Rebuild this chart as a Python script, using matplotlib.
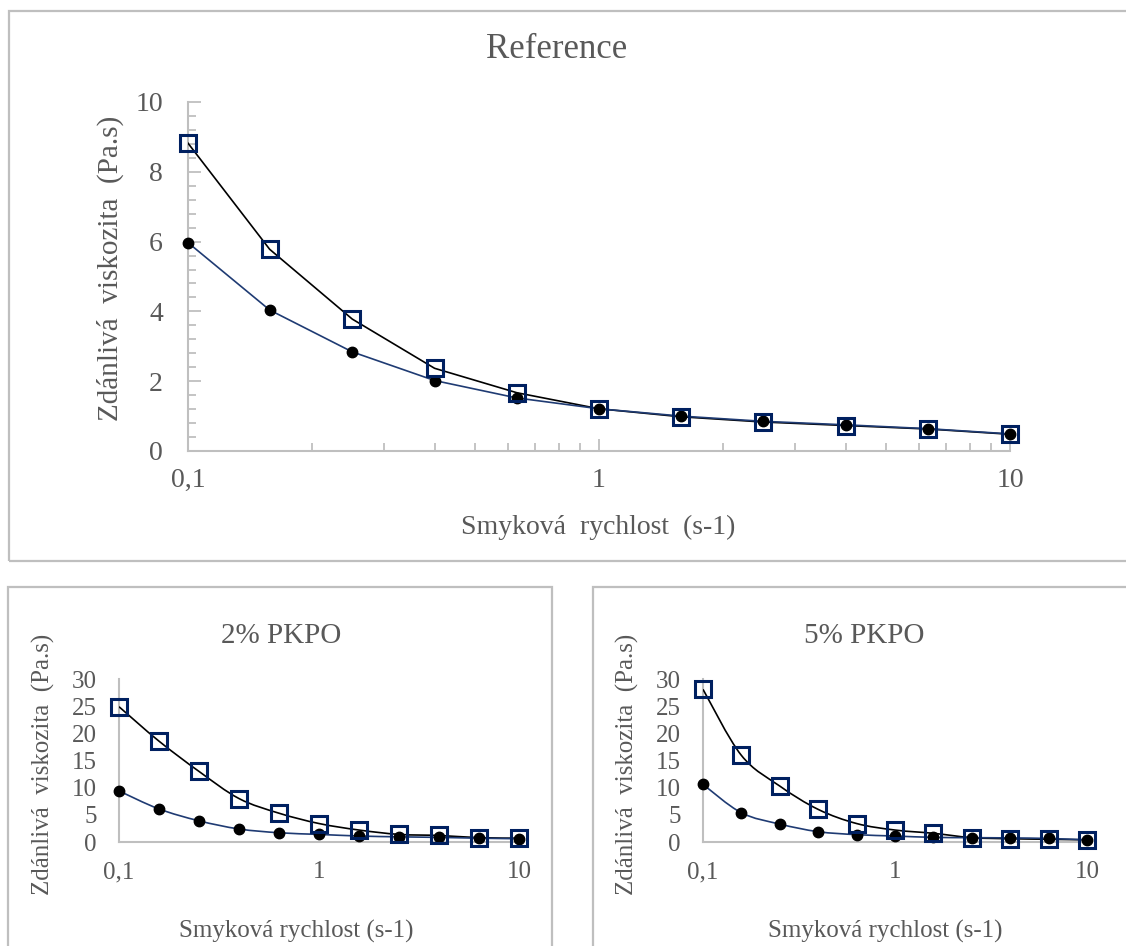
import numpy as np
import matplotlib
matplotlib.use("Agg")
import matplotlib.pyplot as plt
from matplotlib.path import Path
from matplotlib.patches import PathPatch, Rectangle
from matplotlib.ticker import FixedLocator, NullFormatter

plt.rcParams['font.family'] = ['Liberation Serif', 'DejaVu Serif']

# shear rate (s-1)
shear_rate = [0.1, 0.158, 0.251, 0.398, 0.631, 1.0, 1.585, 2.512, 3.981, 6.31, 10.0]

# Reference
ref_squares = [8.82, 5.78, 3.78, 2.37, 1.67, 1.21, 0.98, 0.83, 0.73, 0.63, 0.48]
ref_circles = [5.97, 4.04, 2.84, 2.02, 1.52, 1.21, 1.00, 0.85, 0.75, 0.64, 0.49]

# 2% PKPO
p2_squares = [24.9, 18.6, 13.0, 8.0, 5.3, 3.4, 2.2, 1.4, 1.2, 0.8, 0.7]
p2_circles = [9.4, 6.1, 3.9, 2.4, 1.7, 1.4, 1.1, 0.95, 0.85, 0.7, 0.6]

# 5% PKPO
p5_squares = [28.1, 16.0, 10.3, 6.0, 3.4, 2.2, 1.6, 0.8, 0.6, 0.5, 0.4]
p5_circles = [10.6, 5.4, 3.3, 1.9, 1.35, 1.1, 0.85, 0.8, 0.75, 0.65, 0.4]

x_ticks = [0.1, 1, 10]
x_labels = ['0,1', '1', '10']

TEXT = '#595959'
AXIS = '#BFBFBF'
NAVY = '#002060'
NAVY_LINE = '#1F3B73'

W, H = 1126, 946
fig = plt.figure(figsize=(W / 100, H / 100), dpi=100)


def fbox(x0, y0, x1, y1):
    # pixel box (top-left origin) -> figure fraction rect
    return [x0 / W, 1 - y1 / H, (x1 - x0) / W, (y1 - y0) / H]


def smooth_path(x, y):
    # Excel-like smoothed line (Catmull-Rom as cubic Bezier in log-x space)
    pts = np.column_stack([np.log10(x), y])
    n = len(pts)
    verts = [pts[0]]
    codes = [Path.MOVETO]
    for i in range(n - 1):
        p0 = pts[i - 1] if i > 0 else pts[i]
        p1 = pts[i]
        p2 = pts[i + 1]
        p3 = pts[i + 2] if i + 2 < n else pts[i + 1]
        verts += [p1 + (p2 - p0) / 6, p2 - (p3 - p1) / 6, p2]
        codes += [Path.CURVE4] * 3
    verts = np.array(verts)
    verts[:, 0] = 10 ** verts[:, 0]
    return Path(verts, codes)


def draw_panel(ax, squares, circles, ymax, ystep, tick_fs, minor, smooth):
    ax.set_xscale('log')
    ax.set_xlim(0.1, 10)
    ax.set_ylim(0, ymax)
    if smooth:
        ax.add_patch(PathPatch(smooth_path(shear_rate, squares), facecolor='none',
                               edgecolor='black', lw=1.2, zorder=3))
        ax.add_patch(PathPatch(smooth_path(shear_rate, circles), facecolor='none',
                               edgecolor=NAVY_LINE, lw=1.2, zorder=3))
    else:
        ax.plot(shear_rate, squares, color='black', lw=1.2, zorder=3)
        ax.plot(shear_rate, circles, color=NAVY_LINE, lw=1.2, zorder=3)
    ax.plot(shear_rate, circles, ls='none', marker='o', ms=7.5, color='black',
            zorder=4, clip_on=False)
    ax.plot(shear_rate, squares, ls='none', marker='s', ms=11.5, mfc='none',
            mec=NAVY, mew=2.2, zorder=5, clip_on=False)
    for s in ['top', 'right']:
        ax.spines[s].set_visible(False)
    for s in ['left', 'bottom']:
        ax.spines[s].set_color(AXIS)
        ax.spines[s].set_linewidth(1.5)
    ax.xaxis.set_major_locator(FixedLocator(x_ticks))
    ax.set_xticklabels(x_labels)
    ax.set_yticks(np.arange(0, ymax + 0.01, ystep))
    ax.set_yticklabels([f'{v:g}' for v in np.arange(0, ymax + 0.01, ystep)])
    ax.patch.set_alpha(0)
    if minor:
        ax.xaxis.set_minor_locator(FixedLocator([k * 10 ** e for e in (-1, 0) for k in range(2, 10)]))
        ax.xaxis.set_minor_formatter(NullFormatter())
        ax.yaxis.set_minor_locator(FixedLocator(np.arange(0, ymax + 0.01, 0.4)))
        ax.tick_params(which='both', direction='in', color=AXIS, width=1.3)
        ax.tick_params(which='major', length=9)
        ax.tick_params(which='minor', length=6)
        ax.tick_params(axis='y', which='major', pad=18)
        ax.tick_params(axis='x', which='major', pad=12)
    else:
        ax.xaxis.set_minor_locator(FixedLocator([]))
        ax.tick_params(which='both', length=0)
        ax.tick_params(axis='y', pad=16)
        ax.tick_params(axis='x', pad=14)
    ax.tick_params(labelsize=tick_fs, labelcolor=TEXT)


# panel frames
for (x0, y0, x1, y1) in [(9, 10.5, 1140, 561), (8, 587, 552, 960), (593, 587, 1140, 960)]:
    fig.patches.append(Rectangle((x0 / W, 1 - y1 / H), (x1 - x0) / W, (y1 - y0) / H,
                                 transform=fig.transFigure, facecolor='none',
                                 edgecolor=AXIS, lw=1.6))

ax1 = fig.add_axes(fbox(188, 102, 1010, 451))
draw_panel(ax1, ref_squares, ref_circles, 10, 2, 20, True, False)

ax2 = fig.add_axes(fbox(119, 679, 519, 842))
draw_panel(ax2, p2_squares, p2_circles, 30, 5, 18, False, True)

ax3 = fig.add_axes(fbox(703, 679, 1087, 842))
draw_panel(ax3, p5_squares, p5_circles, 30, 5, 18, False, True)


def ftext(x, y, s, fs, rot=0):
    fig.text(x / W, 1 - y / H, s, fontsize=fs, color=TEXT, rotation=rot,
             ha='center', va='center')


ftext(557, 50, 'Reference', 25)
ftext(598, 527, 'Smyková  rychlost  (s-1)', 20)
ftext(110, 268, 'Zdánlivá  viskozita  (Pa.s)', 21, 90)

ftext(281, 636, '2% PKPO', 21)
ftext(296, 931, 'Smyková rychlost (s-1)', 18)
ftext(43, 764, 'Zdánlivá  viskozita  (Pa.s)', 18, 90)

ftext(864, 636, '5% PKPO', 21)
ftext(885, 931, 'Smyková rychlost (s-1)', 18)
ftext(627, 764, 'Zdánlivá  viskozita  (Pa.s)', 18, 90)

fig.savefig('out.png', dpi=100, facecolor='white')
